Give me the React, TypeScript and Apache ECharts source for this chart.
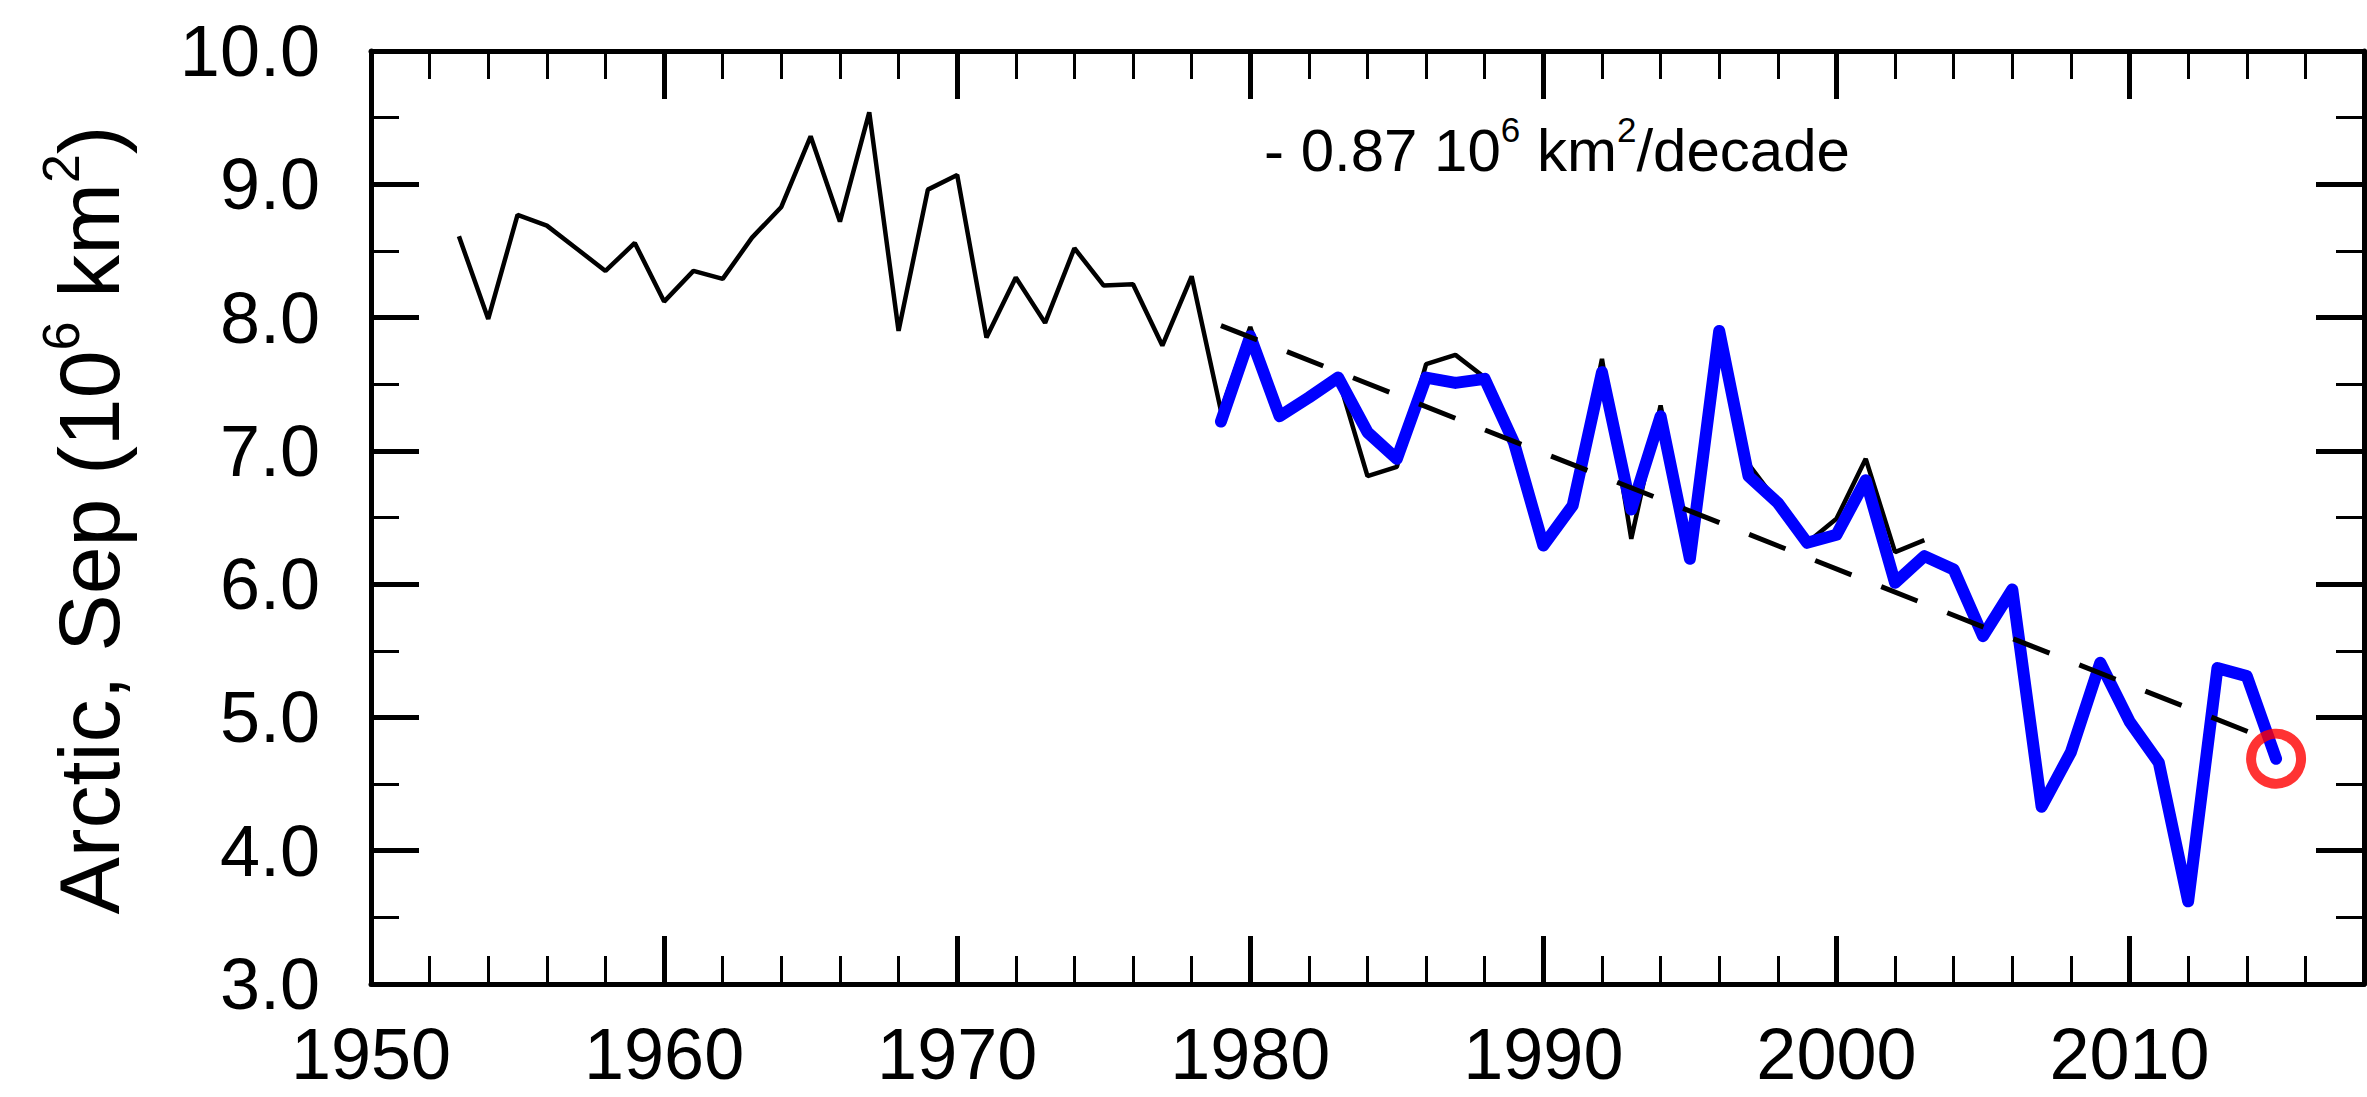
import React, { useEffect, useRef } from "react";
import * as echarts from "echarts";

// ---- data ----
const blackYears = [
  1953, 1954, 1955, 1956, 1957, 1958, 1959, 1960, 1961, 1962, 1963, 1964, 1965,
  1966, 1967, 1968, 1969, 1970, 1971, 1972, 1973, 1974, 1975, 1976, 1977, 1978,
  1979, 1980, 1981, 1982, 1983, 1984, 1985, 1986, 1987, 1988, 1989, 1990, 1991,
  1992, 1993, 1994, 1995, 1996, 1997, 1998, 1999, 2000, 2001, 2002, 2003,
];
const blackValues = [
  8.61, 7.99, 8.77, 8.69, 8.52, 8.35, 8.56, 8.12, 8.35, 8.29, 8.6, 8.83, 9.36,
  8.72, 9.54, 7.9, 8.96, 9.07, 7.85, 8.3, 7.96, 8.52, 8.24, 8.25, 7.79, 8.31,
  7.3, 7.93, 7.26, 7.4, 7.55, 6.81, 6.88, 7.65, 7.72, 7.55, 7.06, 6.29, 6.59,
  7.69, 6.34, 7.34, 6.19, 7.9, 6.9, 6.61, 6.31, 6.49, 6.94, 6.24, 6.33,
];
const blueYears = [
  1979, 1980, 1981, 1982, 1983, 1984, 1985, 1986, 1987, 1988, 1989, 1990, 1991,
  1992, 1993, 1994, 1995, 1996, 1997, 1998, 1999, 2000, 2001, 2002, 2003, 2004,
  2005, 2006, 2007, 2008, 2009, 2010, 2011, 2012, 2013, 2014, 2015,
];
const blueValues = [
  7.22, 7.86, 7.26, 7.4, 7.55, 7.14, 6.94, 7.55, 7.51, 7.54, 7.06, 6.29, 6.59,
  7.59, 6.56, 7.26, 6.19, 7.9, 6.81, 6.61, 6.31, 6.37, 6.78, 6.01, 6.21, 6.11,
  5.61, 5.96, 4.33, 4.74, 5.41, 4.97, 4.66, 3.62, 5.37, 5.31, 4.69,
];
const trendYears = [1979, 2015];
const trendValues = [7.94, 4.81];

const xTickLabels = ["1950", "1960", "1970", "1980", "1990", "2000", "2010"];
const X_MIN = 1950;
const X_MAX = 2018;
const Y_MIN = 3;
const Y_MAX = 10;

const FONT = "'Liberation Sans', Arial, Helvetica, sans-serif";

function pairs(xs: number[], ys: number[]) {
  return xs.map((x, i) => [x, ys[i]]);
}

export default function App() {
  const ref = useRef<HTMLDivElement>(null);

  useEffect(() => {
    document.body.style.margin = "0";
    if (!ref.current) return;
    const chart = echarts.init(ref.current, undefined, { renderer: "svg" });

    const baseX = (position: "top" | "bottom", interval: number, len: number, w: number, line: boolean, labels: boolean) => ({
      type: "value",
      position,
      min: X_MIN,
      max: X_MAX,
      interval,
      axisLine: { show: line, onZero: false, lineStyle: { color: "#000", width: 5 } },
      axisTick: { show: true, inside: true, length: len, lineStyle: { color: "#000", width: w } },
      axisLabel: {
        show: labels,
        margin: 42,
        fontSize: 72,
        lineHeight: 56,
        color: "#000",
        fontFamily: FONT,
        formatter: (v: number) => {
          const s = String(Math.round(v));
          return xTickLabels.includes(s) && Math.abs(v - Math.round(v)) < 1e-6 ? s : "";
        },
      },
      splitLine: { show: false },
    });

    const baseY = (position: "left" | "right", interval: number, len: number, w: number, line: boolean, labels: boolean) => ({
      type: "value",
      position,
      min: Y_MIN,
      max: Y_MAX,
      interval,
      axisLine: { show: line, onZero: false, lineStyle: { color: "#000", width: 5 } },
      axisTick: { show: true, inside: true, length: len, lineStyle: { color: "#000", width: w } },
      axisLabel: {
        show: labels,
        margin: 51,
        fontSize: 72,
        color: "#000",
        fontFamily: FONT,
        formatter: (v: number) => v.toFixed(1),
      },
      splitLine: { show: false },
    });

    const last = blueYears.length - 1;

    chart.setOption({
      animation: false,
      backgroundColor: "#fff",
      grid: { left: 371, right: -21, top: 51, bottom: 113, containLabel: false },
      xAxis: [
        baseX("bottom", 2, 28, 3, true, true),
        baseX("bottom", 10, 48, 5, false, false),
        baseX("top", 2, 28, 3, true, false),
        baseX("top", 10, 48, 5, false, false),
      ],
      yAxis: [
        baseY("left", 1, 48, 5, true, true),
        baseY("left", 0.5, 28, 3, false, false),
        baseY("right", 1, 48, 5, true, false),
        baseY("right", 0.5, 28, 3, false, false),
      ],
      series: [
        {
          type: "line",
          xAxisIndex: 0,
          yAxisIndex: 0,
          data: pairs(blackYears, blackValues),
          symbol: "none",
          lineStyle: { color: "#000", width: 4.5 },
          z: 2,
          silent: true,
        },
        {
          type: "line",
          xAxisIndex: 0,
          yAxisIndex: 0,
          data: pairs(blueYears, blueValues),
          symbol: "none",
          lineStyle: { color: "#0000ff", width: 12, cap: "round", join: "round" },
          z: 3,
          silent: true,
        },
        {
          type: "line",
          xAxisIndex: 0,
          yAxisIndex: 0,
          data: pairs(trendYears, trendValues),
          symbol: "none",
          lineStyle: { color: "#000", width: 5, type: [39, 32] },
          z: 4,
          silent: true,
        },
        {
          type: "scatter",
          xAxisIndex: 0,
          yAxisIndex: 0,
          data: [[blueYears[last], blueValues[last]]],
          symbol: "circle",
          symbolSize: 50,
          itemStyle: { color: "rgba(0,0,0,0)", borderColor: "#ff0000", borderWidth: 10 },
          z: 5,
          silent: true,
        },
      ],
      graphic: [
        {
          type: "text",
          x: 89,
          y: 520,
          rotation: Math.PI / 2,
          style: {
            text: "Arctic, Sep (10{sup|6} km{sup|2})",
            fontSize: 86,
            fontFamily: FONT,
            fill: "#000",
            lineHeight: 108,
            align: "center",
            verticalAlign: "middle",
            rich: {
              sup: { fontSize: 52, lineHeight: 52, verticalAlign: "top", fontFamily: FONT, fill: "#000" },
            },
          },
        },
        {
          type: "text",
          x: 1264,
          y: 150,
          style: {
            text: "- 0.87 10{sup|6} km{sup|2}/decade",
            fontSize: 60,
            fontFamily: FONT,
            fill: "#000",
            lineHeight: 77,
            align: "left",
            verticalAlign: "middle",
            rich: {
              sup: { fontSize: 35, lineHeight: 35, verticalAlign: "top", fontFamily: FONT, fill: "#000" },
            },
          },
        },
      ],
    });

    return () => chart.dispose();
  }, []);

  return <div ref={ref} style={{ width: 2367, height: 1097 }} />;
}
